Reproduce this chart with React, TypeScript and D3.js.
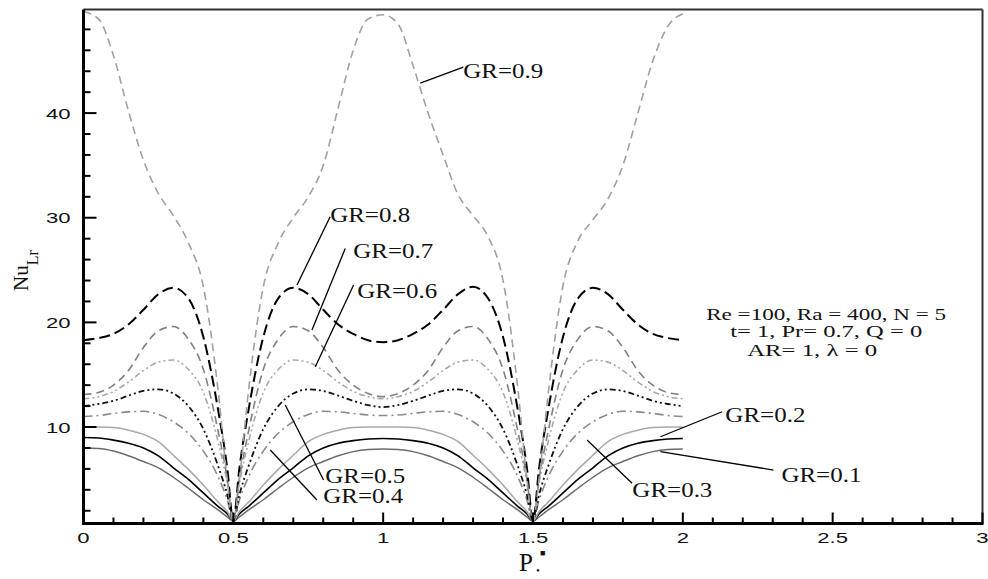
import React from 'react';
import * as d3 from 'd3';

const W = 988;
const H = 579;

// P_e* positions (shared x values)
const pValues = [0, 0.05, 0.1, 0.15, 0.2, 0.25, 0.3, 0.35, 0.4, 0.45, 0.48, 0.5, 0.52, 0.55, 0.6, 0.65, 0.7, 0.75, 0.8, 0.85, 0.9, 0.95, 1.0, 1.05, 1.1, 1.15, 1.2, 1.25, 1.3, 1.35, 1.4, 1.45, 1.48, 1.5, 1.52, 1.55, 1.6, 1.65, 1.7, 1.75, 1.8, 1.85, 1.9, 1.95, 2.0];

const gr01 = [8.0, 7.95, 7.7, 7.25, 6.7, 6.1, 5.2, 4.15, 3.05, 2.05, 1.4, 1.0, 1.4, 2.05, 3.05, 4.15, 5.2, 6.1, 6.7, 7.25, 7.65, 7.85, 7.9, 7.85, 7.65, 7.25, 6.7, 6.1, 5.2, 4.15, 3.05, 2.05, 1.4, 1.0, 1.4, 2.05, 3.05, 4.15, 5.2, 6.1, 6.7, 7.25, 7.65, 7.85, 7.9];
const gr02 = [9.0, 8.95, 8.75, 8.45, 8.0, 7.25, 6.1, 5.0, 3.7, 2.4, 1.7, 1.0, 1.7, 2.4, 3.7, 5.0, 6.1, 7.25, 8.0, 8.45, 8.7, 8.85, 8.9, 8.85, 8.7, 8.45, 8.0, 7.25, 6.1, 5.0, 3.7, 2.4, 1.7, 1.0, 1.7, 2.4, 3.7, 5.0, 6.1, 7.25, 8.0, 8.45, 8.7, 8.85, 8.9];
const gr03 = [10.0, 10.0, 9.95, 9.7, 9.3, 8.6, 7.3, 5.95, 4.45, 2.8, 1.9, 1.0, 1.9, 2.8, 4.45, 5.95, 7.3, 8.6, 9.3, 9.7, 9.95, 10.0, 10.0, 10.0, 9.95, 9.7, 9.3, 8.6, 7.3, 5.95, 4.45, 2.8, 1.9, 1.0, 1.9, 2.8, 4.45, 5.95, 7.3, 8.6, 9.3, 9.7, 9.95, 10.0, 10.0];
const gr04 = [11.0, 11.1, 11.3, 11.45, 11.5, 11.2, 10.5, 9.4, 7.7, 5.2, 3.0, 1.0, 3.0, 5.2, 7.7, 9.4, 10.5, 11.2, 11.5, 11.45, 11.3, 11.15, 11.1, 11.15, 11.3, 11.45, 11.5, 11.2, 10.5, 9.4, 7.7, 5.2, 3.0, 1.0, 3.0, 5.2, 7.7, 9.4, 10.5, 11.2, 11.5, 11.45, 11.3, 11.1, 11.0];
const gr05 = [12.0, 12.2, 12.5, 13.0, 13.45, 13.6, 13.2, 12.0, 9.8, 6.2, 3.5, 1.0, 3.5, 6.2, 9.8, 12.0, 13.2, 13.6, 13.45, 13.0, 12.5, 12.1, 11.9, 12.1, 12.5, 13.0, 13.45, 13.6, 13.2, 12.0, 9.8, 6.2, 3.5, 1.0, 3.5, 6.2, 9.8, 12.0, 13.2, 13.6, 13.45, 13.0, 12.5, 12.2, 12.0];
const gr06 = [12.7, 12.9, 13.4, 14.3, 15.4, 16.2, 16.4, 15.5, 13.3, 8.5, 4.6, 1.0, 4.6, 8.5, 13.3, 15.5, 16.4, 16.2, 15.4, 14.3, 13.4, 12.9, 12.7, 12.9, 13.4, 14.3, 15.4, 16.2, 16.4, 15.5, 13.3, 8.5, 4.6, 1.0, 4.6, 8.5, 13.3, 15.5, 16.4, 16.2, 15.4, 14.3, 13.4, 12.9, 12.7];
const gr07 = [13.1, 13.3, 14.0, 15.4, 17.6, 19.2, 19.6, 18.4, 15.5, 9.5, 5.0, 1.0, 5.0, 9.5, 15.5, 18.4, 19.6, 19.2, 17.6, 15.4, 14.0, 13.2, 12.9, 13.2, 14.0, 15.4, 17.6, 19.2, 19.6, 18.4, 15.5, 9.5, 5.0, 1.0, 5.0, 9.5, 15.5, 18.4, 19.6, 19.2, 17.6, 15.4, 14.0, 13.3, 13.1];
const gr08 = [18.3, 18.5, 18.9, 19.8, 21.2, 22.7, 23.3, 22.3, 18.6, 11.5, 6.0, 1.0, 6.0, 11.5, 18.6, 22.3, 23.3, 22.7, 21.2, 19.8, 18.9, 18.3, 18.1, 18.3, 18.9, 19.8, 21.2, 22.7, 23.4, 22.3, 18.6, 11.5, 6.0, 1.0, 6.0, 11.5, 18.6, 22.3, 23.3, 22.7, 21.2, 19.8, 18.9, 18.5, 18.3];
const gr09 = [49.7, 49.0, 45.5, 40.2, 35.5, 32.3, 30.2, 27.6, 23.4, 13.3, 4.9, 1.0, 5.0, 13.3, 23.4, 27.6, 30.0, 32.0, 35.0, 40.5, 46.0, 49.0, 49.4, 48.5, 44.5, 40.0, 36.0, 32.2, 30.2, 28.2, 24.0, 13.5, 5.0, 1.0, 5.0, 13.0, 23.5, 27.8, 29.8, 31.8, 35.0, 40.0, 45.0, 48.3, 49.5];

const seriesNames = ['GR=0.1', 'GR=0.2', 'GR=0.3', 'GR=0.4', 'GR=0.5', 'GR=0.6', 'GR=0.7', 'GR=0.8', 'GR=0.9'];
const seriesValues = [gr01, gr02, gr03, gr04, gr05, gr06, gr07, gr08, gr09];

const xTickValues = [0, 0.5, 1, 1.5, 2, 2.5, 3];
const xTickLabels = ['0', '0.5', '1', '1.5', '2', '2.5', '3'];
const yTickValues = [10, 20, 30, 40];
const yTickLabels = ['10', '20', '30', '40'];

// annotation label anchors (data units): text start, leader line ends
const labelTextX = [2.329, 2.142, 1.8316, 0.8001, 0.8068, 0.9136, 0.9003, 0.8231, 1.2675];
const labelTextY = [4.75, 10.48, 3.31, 2.74, 4.65, 22.32, 26.15, 29.59, 43.34];
const leaderX1 = [2.3023, 2.1311, 1.8306, 0.7791, 0.8011, 0.9013, 0.8735, 0.8231, 1.2675];
const leaderY1 = [5.89, 11.46, 4.62, 3.03, 4.94, 23.57, 27.07, 30.09, 44.39];
const leaderX2 = [1.9251, 1.9251, 1.6804, 0.6232, 0.6733, 0.7735, 0.7624, 0.7124, 1.1239];
const leaderY2 = [7.64, 9.07, 8.76, 7.8, 12.1, 15.76, 19.27, 23.57, 42.87];

const paramLines = ['Re =100, Ra = 400, N = 5', 't= 1, Pr= 0.7, Q = 0', 'AR= 1, \u03bb = 0'];
const paramX = [2.0779, 2.158, 2.2148];
const paramY = [20.27, 18.6, 16.78];

const lineStyles = [
  { stroke: '#6a6a6a', width: 1.5, dash: null },
  { stroke: '#000000', width: 1.6, dash: null },
  { stroke: '#a8a8a8', width: 1.5, dash: null },
  { stroke: '#8a8a8a', width: 1.6, dash: '9,4,2,4' },
  { stroke: '#111111', width: 1.8, dash: '6,3,2,3,2,3' },
  { stroke: '#a8a8a8', width: 1.6, dash: '6,3,2,3,2,3' },
  { stroke: '#808080', width: 1.6, dash: '8,5' },
  { stroke: '#000000', width: 2, dash: '11,5' },
  { stroke: '#a0a0a0', width: 1.6, dash: '8,5' },
];

export default function App() {
  const x = d3.scaleLinear().domain([0, 3]).range([83.5, 982.5]);
  const y = d3.scaleLinear().domain([0.78, 49.9]).range([523.5, 9.5]);

  const line = d3
    .line<number>()
    .x((_, i) => x(pValues[i]))
    .y((d) => y(d))
    .curve(d3.curveMonotoneX);

  const xMinor = d3.range(0, 31).map((k) => k / 10).filter((v) => Math.abs(v * 2 - Math.round(v * 2)) > 1e-6);
  const yMinor = d3.range(2, 50, 2).filter((v) => v % 10 !== 0);

  const tickLen = (s: string) => s.replace(/\./g, '').length * 12.3 + (s.includes('.') ? 6 : 0);

  const labelFont = '"Liberation Serif", "Times New Roman", serif';
  const tickFont = '"Liberation Sans", Arial, sans-serif';

  return (
    <div style={{ position: 'absolute', left: 0, top: 0, width: W, height: H, background: '#fff' }}>
      <svg width={W} height={H} viewBox={`0 0 ${W} ${H}`} style={{ display: 'block' }}>
        <rect x={0} y={0} width={W} height={H} fill="#fff" />
        <defs>
          <clipPath id="plotClip">
            <rect x={83.5} y={9.5} width={899} height={514} />
          </clipPath>
        </defs>

        <g clipPath="url(#plotClip)">
          {seriesValues.map((vals, i) => (
            <path
              key={seriesNames[i]}
              d={line(vals) || ''}
              fill="none"
              stroke={lineStyles[i].stroke}
              strokeWidth={lineStyles[i].width}
              strokeDasharray={lineStyles[i].dash || undefined}
              strokeLinejoin="round"
            />
          ))}
        </g>

        {/* frame */}
        <line x1={x(0)} x2={x(3)} y1={y(49.9)} y2={y(49.9)} stroke="#333" strokeWidth={2} />
        <line x1={x(3)} x2={x(3)} y1={y(49.9)} y2={y(0.78)} stroke="#333" strokeWidth={2} />
        <line x1={x(0)} x2={x(0)} y1={y(49.9)} y2={y(0.78) + 1.5} stroke="#000" strokeWidth={3} />
        <line x1={x(0) - 1.5} x2={x(3) + 1} y1={y(0.78)} y2={y(0.78)} stroke="#000" strokeWidth={3} />

        {/* x ticks */}
        {xTickValues.map((v) => (
          <line key={'xM' + v} x1={x(v)} x2={x(v)} y1={y(0.78)} y2={y(0.78) - 11} stroke="#000" strokeWidth={2} />
        ))}
        {xMinor.map((v) => (
          <line key={'xm' + v} x1={x(v)} x2={x(v)} y1={y(0.78)} y2={y(0.78) - 6} stroke="#000" strokeWidth={2} />
        ))}
        {/* y ticks */}
        {yTickValues.map((v) => (
          <line key={'yM' + v} x1={x(0)} x2={x(0) + 13} y1={y(v)} y2={y(v)} stroke="#000" strokeWidth={2} />
        ))}
        {yMinor.map((v) => (
          <line key={'ym' + v} x1={x(0)} x2={x(0) + 7} y1={y(v)} y2={y(v)} stroke="#000" strokeWidth={2} />
        ))}

        {/* tick labels */}
        {xTickValues.map((v, i) => (
          <text
            key={'xl' + v}
            x={x(v)}
            y={543}
            textAnchor="middle"
            fontFamily={tickFont}
            fontSize={15.5}
            fill="#111"
            textLength={tickLen(xTickLabels[i])}
            lengthAdjust="spacingAndGlyphs"
          >
            {xTickLabels[i]}
          </text>
        ))}
        {yTickValues.map((v, i) => (
          <text
            key={'yl' + v}
            x={70.5}
            y={y(v) + 5.5}
            textAnchor="end"
            fontFamily={tickFont}
            fontSize={15.5}
            fill="#111"
            textLength={tickLen(yTickLabels[i])}
            lengthAdjust="spacingAndGlyphs"
          >
            {yTickLabels[i]}
          </text>
        ))}

        {/* axis titles */}
        <g transform="translate(28,291) rotate(-90)">
          <text x={0} y={0} fontFamily={labelFont} fontSize={21} fill="#111">
            Nu
            <tspan dy={10} fontSize={16}>Lr</tspan>
          </text>
        </g>
        <text x={519} y={571} fontFamily={labelFont} fontSize={25} fill="#111">
          P
          <tspan x={540} y={556} fontSize={9}>{'\u25a0'}</tspan>
          <tspan x={536} y={574} fontSize={11}>{'\u2022'}</tspan>
        </text>

        {/* leader lines and labels */}
        {seriesNames.map((name, i) => (
          <g key={'lab' + name}>
            <line
              x1={x(leaderX1[i])}
              y1={y(leaderY1[i])}
              x2={x(leaderX2[i])}
              y2={y(leaderY2[i])}
              stroke="#000"
              strokeWidth={1.3}
            />
            <text
              x={x(labelTextX[i])}
              y={y(labelTextY[i])}
              fontFamily={labelFont}
              fontSize={20}
              fill="#111"
              textLength={80}
              lengthAdjust="spacingAndGlyphs"
            >
              {name}
            </text>
          </g>
        ))}

        {/* parameter block */}
        {paramLines.map((t, i) => (
          <text
            key={'p' + i}
            x={x(paramX[i])}
            y={y(paramY[i])}
            fontFamily={labelFont}
            fontSize={17}
            fill="#111"
            textLength={[240, 192, 130][i]}
            lengthAdjust="spacingAndGlyphs"
          >
            {t}
          </text>
        ))}
      </svg>
    </div>
  );
}
